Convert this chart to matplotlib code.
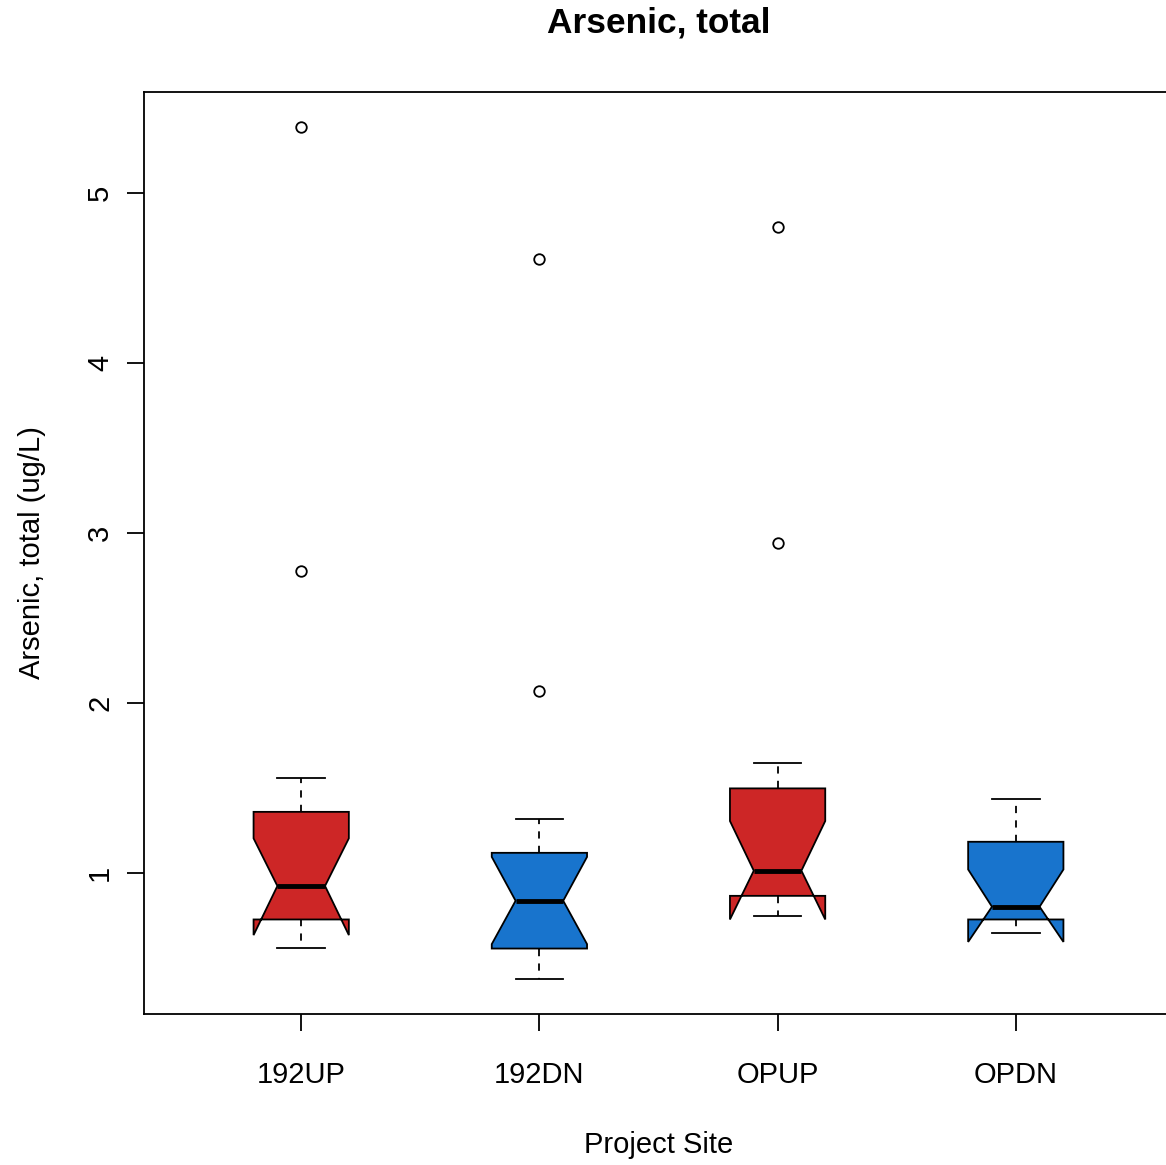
import matplotlib
matplotlib.use("Agg")
import matplotlib.pyplot as plt

# Summary statistics per project site (ug/L)
sites = ["192UP", "192DN", "OPUP", "OPDN"]
whisker_low = [0.562, 0.376, 0.749, 0.650]
quartile1 = [0.727, 0.556, 0.866, 0.727]
median = [0.924, 0.837, 1.014, 0.802]
quartile3 = [1.360, 1.119, 1.498, 1.184]
whisker_high = [1.557, 1.318, 1.645, 1.437]
notch_low = [0.635, 0.582, 0.727, 0.595]
notch_high = [1.204, 1.095, 1.306, 1.021]
outliers = [[5.388, 2.776], [4.612, 2.071], [4.800, 2.941], []]
fill_colors = ["#CD2626", "#1874CD", "#CD2626", "#1874CD"]
y_ticks = [1, 2, 3, 4, 5]

plt.rcParams["font.family"] = ["Liberation Sans", "DejaVu Sans"]

W, H = 1166, 1165
fig = plt.figure(figsize=(W / 100, H / 100), dpi=100)
ax = fig.add_axes([144 / W, 1 - 1014 / H, (1173 - 144) / W, (1014 - 92) / H])

stats = []
for i, name in enumerate(sites):
    stats.append(dict(label=name, whislo=whisker_low[i], q1=quartile1[i],
                      med=median[i], q3=quartile3[i], whishi=whisker_high[i],
                      cilo=notch_low[i], cihi=notch_high[i],
                      fliers=outliers[i]))

positions = list(range(1, len(sites) + 1))
lw = 1.3
bp = ax.bxp(stats, positions=positions, widths=0.4, shownotches=True,
            patch_artist=True,
            boxprops=dict(edgecolor="black", linewidth=lw),
            whiskerprops=dict(color="black", linewidth=lw, linestyle=(0, (4, 4))),
            capprops=dict(color="black", linewidth=lw),
            medianprops=dict(color="black", linewidth=3.5, solid_capstyle="butt"),
            flierprops=dict(marker="o", markersize=7.6, markerfacecolor="none",
                            markeredgecolor="black", markeredgewidth=lw,
                            linestyle="none"))
for patch, c in zip(bp["boxes"], fill_colors):
    patch.set_facecolor(c)

ax.set_xlim(0.34, 4.66)
ax.set_ylim(0.171, 5.594)

for sp in ax.spines.values():
    sp.set_linewidth(lw)
    sp.set_color("black")

ax.set_xticks(positions, sites)
ax.set_yticks(y_ticks, [str(v) for v in y_ticks])
ax.tick_params(axis="both", direction="out", length=12.2, width=lw,
               labelsize=21, colors="black")
ax.tick_params(axis="x", pad=37.4)
ax.tick_params(axis="y", pad=13.7)
plt.setp(ax.get_xticklabels(), va="baseline", ha="center")
plt.setp(ax.get_yticklabels(), rotation=90, rotation_mode="anchor",
         va="baseline", ha="center")

fig.text(658.5 / W, 1 - 23.5 / H, "Arsenic, total", ha="center", va="center",
         fontsize=25.4, fontweight="bold")
fig.text(658.5 / W, 1 - 1153 / H, "Project Site", ha="center", va="baseline",
         fontsize=21)
fig.text(40 / W, 1 - 553 / H, "Arsenic, total (ug/L)", ha="center",
         va="baseline", rotation=90, rotation_mode="anchor", fontsize=21)

fig.savefig("out.png", dpi=100)
